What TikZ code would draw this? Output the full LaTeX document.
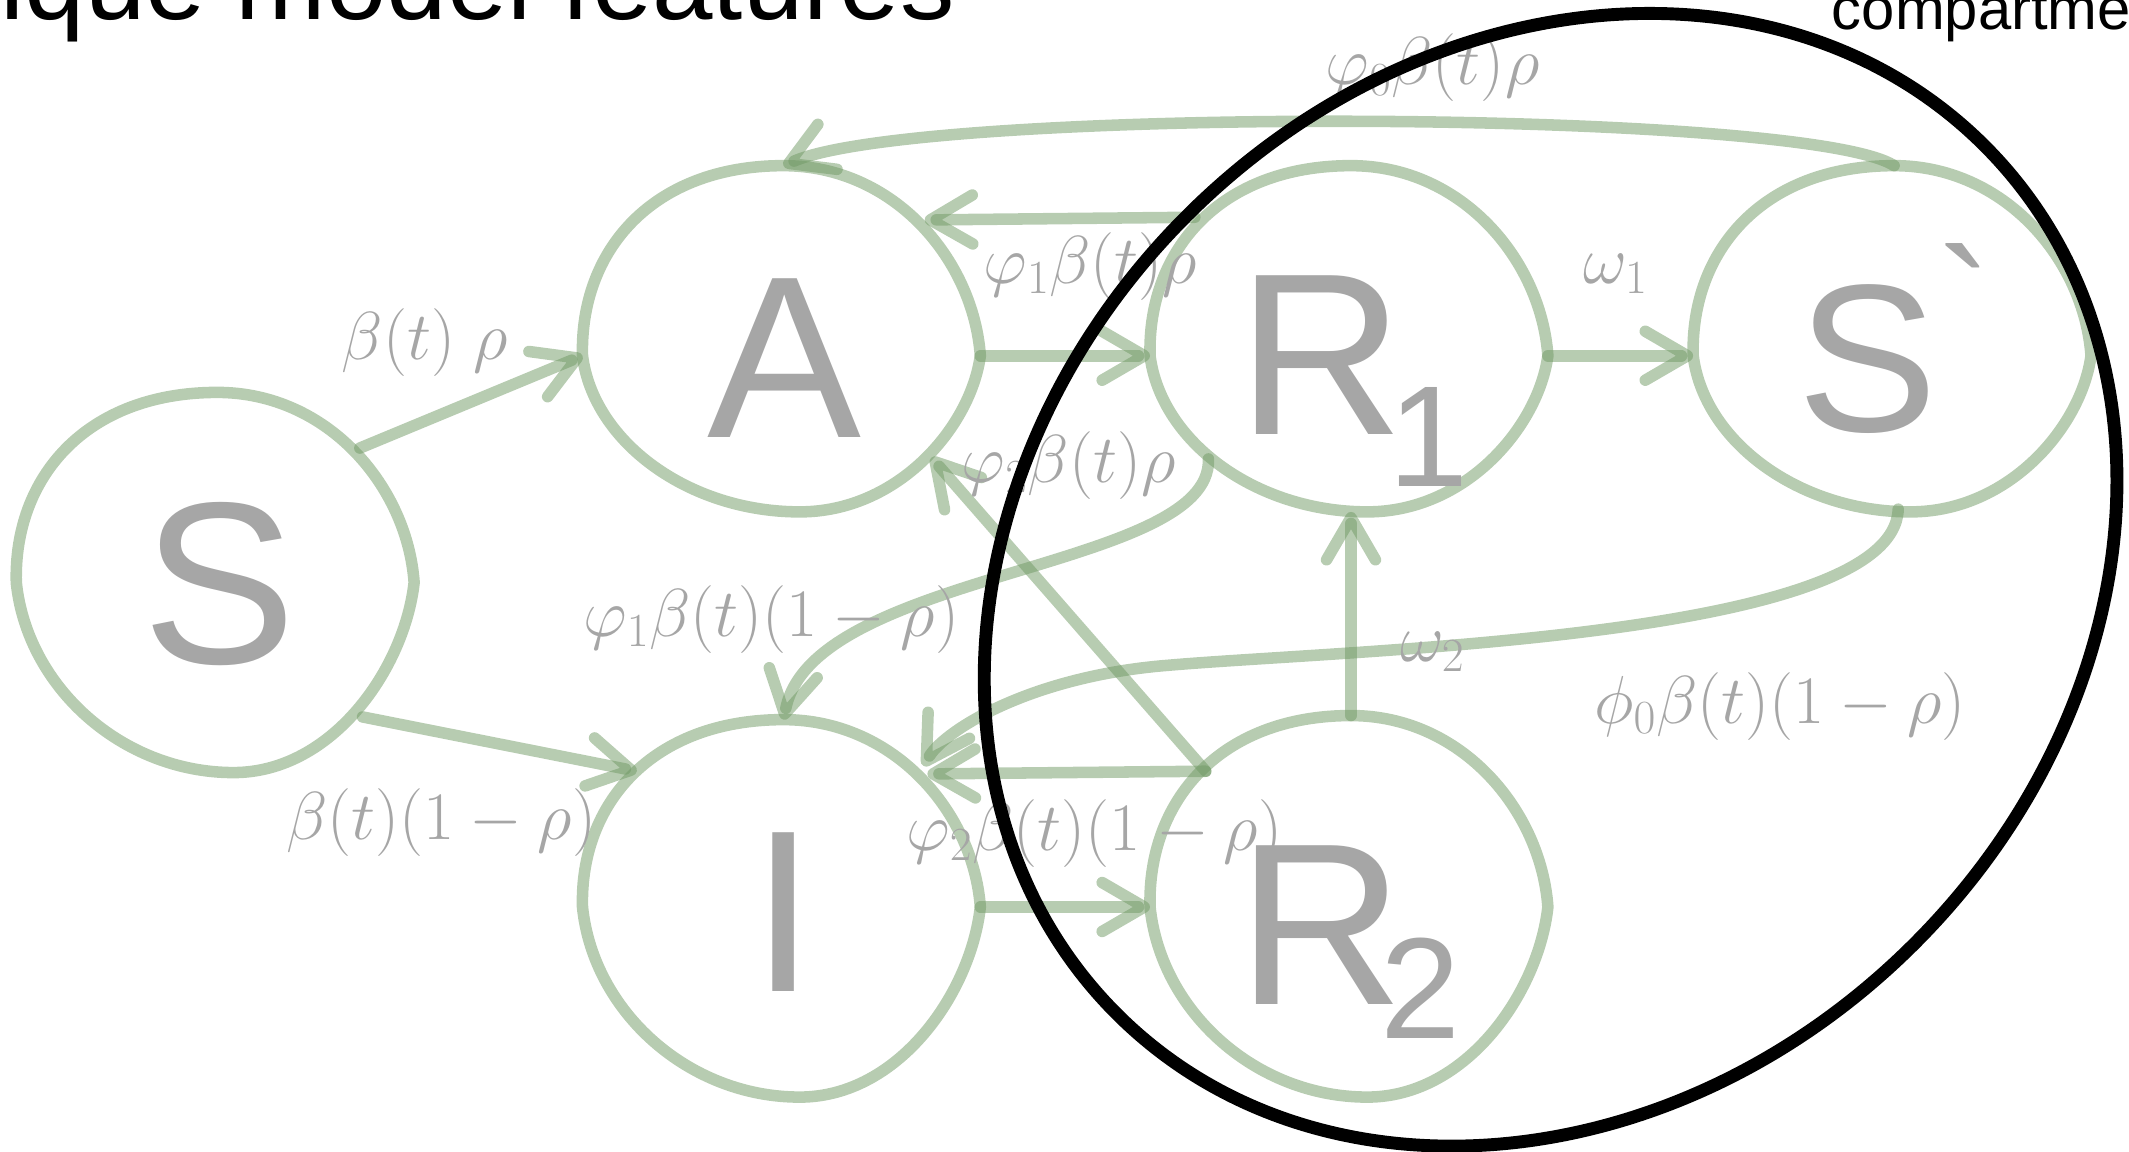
\documentclass[tikz,border=0pt]{standalone}
\usepackage{fix-cm}
\usepackage{fontspec}
\setmainfont{Liberation Sans}
% plain family without TeX ligature mapping, so ` stays a grave accent
\newfontfamily\plainsans{Liberation Sans}
\usetikzlibrary{arrows.meta,calc}

\definecolor{flowgreen}{RGB}{112,153,100}
\definecolor{labelgrey}{RGB}{166,166,166}

\tikzset{
  flow/.style={draw=flowgreen, draw opacity=0.5, line width=8.5pt, line cap=round, line join=round},
  flowarrow/.style={flow, -{Straight Barb[length=31pt,width=36pt,round]}},
  compartment/.style={text=labelgrey, font=\plainsans\fontsize{170}{170}\selectfont, inner sep=0pt, anchor=base},
  rate/.style={text=labelgrey, font=\fontsize{50}{54}\selectfont, inner sep=0pt},
  boundary/.style={draw=black, line width=9.5pt},
}

% hand-drawn compartment outline: name, x, y, height above and depth below the pointed side
\newcommand\compblob[5]{%
  \begin{scope}[shift={(#2,#3)}]
    \draw[flow] (0,-#4) .. controls (82,-#4) and (140,-0.5*#4) .. (145,0)
      .. controls (138,0.45*#5) and (85,#5) .. (12,#5)
      .. controls (-70,#5) and (-140,0.55*#5) .. (-148,0)
      .. controls (-150,-0.55*#4) and (-97,-#4) .. cycle;
    \coordinate (#1-c) at (0,0);
    \coordinate (#1-n) at (0,-#4);
    \coordinate (#1-e) at (145,0);
    \coordinate (#1-s) at (8,#5);
    \coordinate (#1-w) at (-148,0);
  \end{scope}}

\begin{document}
\begin{tikzpicture}[x=1pt,y=-1pt]
\useasboundingbox (0,0) rectangle (1568,848);
\clip (0,0) rectangle (1568,848);

% compartments
\compblob{S}{160}{429}{140}{140}
\compblob{A}{577}{262}{140}{115}
\compblob{R1}{995}{262}{140}{115}
\compblob{Sp}{1395}{262}{140}{115}
\compblob{I}{577}{668}{138}{140}
\compblob{R2}{995}{668}{141}{140}

% attachment points on the outlines
\coordinate (S-ne)  at ($(S-c)+(105,-99)$);
\coordinate (S-se)  at ($(S-c)+(107,99)$);
\coordinate (A-ne)  at ($(A-c)+(104,-100)$);
\coordinate (A-se)  at ($(A-c)+(109,75)$);
\coordinate (I-nw)  at ($(I-c)+(-108,-100)$);
\coordinate (I-ne)  at ($(I-c)+(106,-98)$);
\coordinate (I-ne2) at ($(I-c)+(103,-104)$);
\coordinate (R1-nw) at ($(R1-c)+(-115,-102)$);
\coordinate (R1-sw) at ($(R1-c)+(-105,76)$);
\coordinate (R2-nw) at ($(R2-c)+(-107,-100)$);
\coordinate (Sp-s)  at ($(Sp-c)+(3,113)$);
\coordinate (bend)  at (860,490);

% transitions
\draw[flowarrow] (S-ne) -- (A-w);
\draw[flowarrow] (S-se) -- (I-nw);
\draw[flowarrow] (A-e) -- (R1-w);
\draw[flowarrow] (I-e) -- (R2-w);
\draw[flowarrow] (R1-e) -- (Sp-w);
\draw[flowarrow] (R2-n) -- (R2-n |- R1-s);
\draw[flowarrow] (R1-nw) -- (A-ne);
\draw[flowarrow] (R2-nw) -- (A-se);
\draw[flowarrow] (R2-nw) -- (I-ne);
\draw[flowarrow] (R1-sw) .. controls +(3,82) and +(23,-110) .. (I-n);
\draw[flowarrow] (Sp-s) .. controls +(-3,95) and +(140,-12) .. (bend)
                        .. controls +(-100,8) and +(17,-27) .. (I-ne2);
\draw[flowarrow] (Sp-n) .. controls +(-65,-42) and +(103,-44) .. (A-n);

% compartment letters
\node[compartment] (S) at (162,489) {S};
\node[compartment] (A) at (578,322) {A};
\node[compartment] (I) at (577,730) {I};
\node[compartment, anchor=base west] (R1) at (911,320)
  {R\kern-11pt\raisebox{-38pt}{\fontsize{106}{106}\selectfont 1}};
\node[compartment, anchor=base west] (R2) at (911,740)
  {R\kern-17pt\raisebox{-25pt}{\fontsize{106}{106}\selectfont 2}};
\node[compartment, anchor=base west, font=\plainsans\fontsize{155}{155}\selectfont] (Sp) at (1324,318)
  {S\kern-1pt\raisebox{50pt}{\fontsize{120}{120}\selectfont`}};

% rates
\node[rate] (rSA)  at (313,252)  {$\beta(t)\;\rho$};
\node[rate] (rSI)  at (325,606)  {$\beta(t)(1-\rho)$};
\node[rate] (rR1A) at (803,196)  {$\varphi_1\beta(t)\rho$};
\node[rate] (rR2A) at (787,343)  {$\varphi_2\beta(t)\rho$};
\node[rate] (rR1I) at (568,456)  {$\varphi_1\beta(t)(1-\rho)$};
\node[rate] (rR2I) at (806,614)  {$\varphi_2\beta(t)(1-\rho)$};
\node[rate] (rw1)  at (1190,202) {$\omega_1$};
\node[rate] (rw2)  at (1055,480) {$\omega_2$};
\node[rate] (rSpI) at (1311,520) {$\phi_0\beta(t)(1-\rho)$};
\node[rate] (rSpA) at (1055,50)  {$\varphi_0\beta(t)\rho$};

% grouping outline
\draw[boundary, rotate around={45:(1142,427)}] (1142,427) ellipse [x radius=452, y radius=379];

% slide text
\node[anchor=base west, inner sep=0pt, font=\fontsize{80}{82}\selectfont] (heading) at (-102,14) {Unique model features};
\node[anchor=base west, inner sep=0pt, font=\fontsize{44}{46}\selectfont] (side) at (1349,22) {compartments};
\end{tikzpicture}
\end{document}
